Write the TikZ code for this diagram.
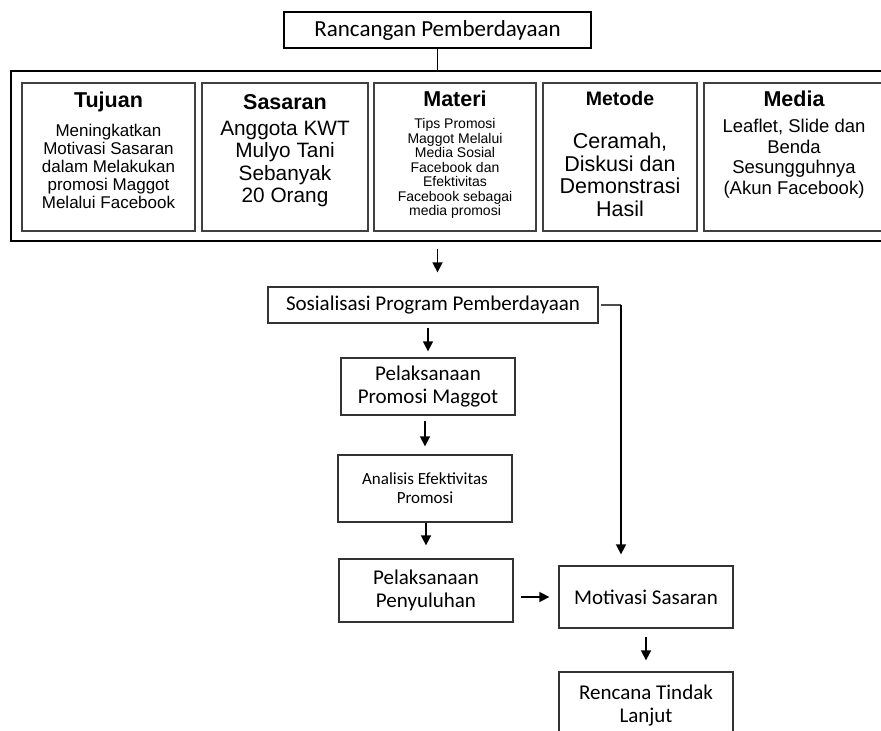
\documentclass[tikz,border=0pt]{standalone}
\usepackage{fontspec}
\setmainfont{Carlito}
\newfontfamily\arialfont{Liberation Sans}
\usetikzlibrary{arrows.meta, positioning}

\tikzset{
  box/.style={draw=black!80, line width=1.3pt, align=center, inner sep=0pt,
    font=\fontsize{21}{23.3}\selectfont},
  panel/.style={draw=black!75, line width=1.5pt, inner sep=0pt},
  ttl/.style={inner sep=0pt, font=\arialfont\bfseries\fontsize{21.5}{23}\selectfont},
  txt/.style={align=center, inner sep=0pt},
  arr/.style={-{Triangle[length=10pt,width=10pt]}, line width=1.6pt}
}

\begin{document}
\begin{tikzpicture}[x=1pt, y=-1pt]
    \useasboundingbox (0,0) rectangle (881,731);
    \clip (0,0) rectangle (881,731);

    % Top box
    \node[box, draw=black, line width=1.5pt, minimum width=307pt, minimum height=36pt,
      font=\fontsize{23}{25}\selectfont] (top) at (437.5,30) {Rancangan Pemberdayaan};

    % Outer panel with the five boxes
    \node[draw=black, line width=1.5pt, minimum width=889pt, minimum height=170pt] (outer) at (455.5,156) {};
    \foreach \n/\cx/\w in {tujuan/108.5/173, sasaran/285/166, materi/455/162, metode/620/154, media/794/180} {
        \node[panel, minimum width=\w pt, minimum height=148pt] (\n) at (\cx,157) {};
    }
    \draw[line width=1.3pt] (top.south) -- (top.south |- outer.north);

    % Titles
    \node[ttl] (tujuanT) at (tujuan |- 0,102) {Tujuan};
    \node[ttl] (sasaranT) at (sasaran |- 0,102) {Sasaran};
    \node[ttl] (materiT) at (materi |- 0,99.3) {Materi};
    \node[ttl, font=\arialfont\bfseries\fontsize{19.5}{21}\selectfont] (metodeT) at (metode |- 0,99) {Metode};
    \node[ttl] (mediaT) at (media |- 0,99.3) {Media};

    % Contents
    \node[txt, font=\arialfont\fontsize{17}{18}\selectfont] (tujuanB) at (tujuan |- 0,166)
      {Meningkatkan\\Motivasi Sasaran\\dalam Melakukan\\promosi Maggot\\Melalui Facebook};
    \node[txt, font=\arialfont\fontsize{20.8}{22.3}\selectfont] (sasaranB) at (sasaran |- 0,164)
      {Anggota KWT\\Mulyo Tani\\Sebanyak\\20 Orang};
    \node[txt, font=\arialfont\fontsize{14}{14.5}\selectfont] (materiB) at (materi |- 0,168.5)
      {Tips Promosi\\Maggot Melalui\\Media Sosial\\Facebook dan\\Efektivitas\\Facebook sebagai\\media promosi};
    \node[txt, font=\arialfont\fontsize{21.5}{22.5}\selectfont] (metodeB) at (metode |- 0,175)
      {Ceramah,\\Diskusi dan\\Demonstrasi\\Hasil};
    \node[txt, font=\arialfont\fontsize{18.5}{20.5}\selectfont] (mediaB) at (media |- 0,158.5)
      {Leaflet, Slide dan\\Benda\\Sesungguhnya\\(Akun Facebook)};

    % Flow below
    \node[box, minimum width=330pt, minimum height=36pt] (sos) at (433,305) {Sosialisasi Program Pemberdayaan};
    \node[box, minimum width=174pt, minimum height=57pt] (pel) at (428,386.5) {Pelaksanaan\\Promosi Maggot};
    \node[box, minimum width=174pt, minimum height=67pt, font=\fontsize{17}{18.7}\selectfont] (ana) at (425,488.5)
      {Analisis Efektivitas\\Promosi};
    \node[box, minimum width=174pt, minimum height=63pt] (peny) at (426,590.5) {Pelaksanaan\\Penyuluhan};
    \node[box, minimum width=174pt, minimum height=62pt] (mot) at (646,597) {Motivasi Sasaran};
    \node[box, minimum width=174pt, minimum height=67pt, font=\fontsize{21}{24}\selectfont] (ren) at (646,705.5)
      {Rencana Tindak\\Lanjut};

    % Arrows
    \draw[arr, shorten <=7pt, shorten >=14pt] (top.south |- outer.south) -- (top.south |- sos.north);
    \foreach \a/\b/\s/\e in {sos/pel/4/6, pel/ana/5/8, ana/peny/0/13} {
        \draw[arr, shorten <=\s pt, shorten >=\e pt] (\b.north |- \a.south) -- (\b.north);
    }
    \draw[arr, shorten <=7pt, shorten >=9pt] (peny.east |- mot.west) -- (mot.west);
    \draw[arr, shorten <=8pt, shorten >=11pt] (mot.south) -- (mot.south |- ren.north);

    % Side line from Sosialisasi to Motivasi
    \coordinate (bend) at (621,305);
    \draw[line width=1.3pt, draw=black!70, shorten <=2pt] (sos.east) -- (bend);
    \draw[arr, shorten >=11pt] (bend) -- (bend |- mot.north);
\end{tikzpicture}
\end{document}
